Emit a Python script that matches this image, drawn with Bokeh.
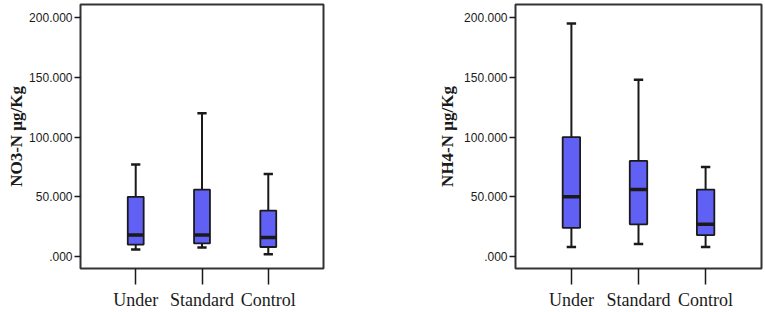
from bokeh.plotting import figure
from bokeh.layouts import row
from bokeh.models import FactorRange, Range1d, FixedTicker, ColumnDataSource
from bokeh.embed import file_html
from bokeh.resources import INLINE

categories = ["Under", "Standard", "Control"]

no3_lower = [6, 7.5, 2]
no3_q1 = [10, 11, 8]
no3_median = [18, 18, 16]
no3_q3 = [50, 56, 38.5]
no3_upper = [77, 120, 69]

nh4_lower = [8, 10.5, 8]
nh4_q1 = [24, 27, 18]
nh4_median = [50, 56, 27]
nh4_q3 = [100, 80, 56]
nh4_upper = [195, 148, 75]

y_ticks = [0, 50, 100, 150, 200]
y_tick_labels = [".000", "50.000", "100.000", "150.000", "200.000"]

BOX_BLUE = "#6060f4"
INK = "#1a1a1a"


def make_panel(label, lower, q1, med, q3, upper, width, mb_left, mb_right, box_w, lab_standoff):
    src = ColumnDataSource(dict(cat=categories, lower=lower, q1=q1, med=med, q3=q3, upper=upper))
    p = figure(width=width, height=312, output_backend="svg", toolbar_location=None,
               x_range=FactorRange(*categories, range_padding=0.333, range_padding_units="absolute"),
               y_range=Range1d(-10, 210.9),
               min_border_left=mb_left, min_border_right=mb_right,
               min_border_top=4, min_border_bottom=44)
    p.background_fill_color = "white"
    p.border_fill_color = "white"
    p.grid.visible = False
    p.outline_line_color = "#333333"
    p.outline_line_width = 2

    # whiskers
    p.segment(x0="cat", y0="q3", x1="cat", y1="upper", source=src, line_color=INK, line_width=2)
    p.segment(x0="cat", y0="q1", x1="cat", y1="lower", source=src, line_color=INK, line_width=2)
    p.rect(x="cat", y="upper", width=0.14, height=2.5, height_units="screen", source=src,
           fill_color=INK, line_color=None)
    p.rect(x="cat", y="lower", width=0.14, height=2.5, height_units="screen", source=src,
           fill_color=INK, line_color=None)
    # boxes
    p.vbar(x="cat", top="q3", bottom="q1", width=box_w, source=src,
           fill_color=BOX_BLUE, line_color=INK, line_width=1.8)
    # medians
    p.rect(x="cat", y="med", width=box_w, height=3.5, height_units="screen", source=src,
           fill_color=INK, line_color=None)

    # y axis
    ya = p.yaxis[0]
    ya.ticker = FixedTicker(ticks=y_ticks)
    ya.major_label_overrides = {t: l for t, l in zip(y_ticks, y_tick_labels)}
    ya.axis_line_color = None
    ya.major_tick_in = 0
    ya.major_tick_out = 6
    ya.major_tick_line_color = INK
    ya.major_tick_line_width = 1.5
    ya.minor_tick_line_color = None
    ya.major_label_standoff = 2
    ya.major_label_text_font = "Liberation Sans"
    ya.major_label_text_font_size = "12px"
    ya.major_label_text_color = INK
    ya.axis_label = label
    ya.axis_label_text_font = "Liberation Serif"
    ya.axis_label_text_font_style = "bold"
    ya.axis_label_text_font_size = "17px"
    ya.axis_label_text_color = INK
    ya.axis_label_standoff = lab_standoff

    # x axis
    xa = p.xaxis[0]
    xa.axis_line_color = None
    xa.major_tick_in = 0
    xa.major_tick_out = 16
    xa.major_tick_line_color = INK
    xa.major_tick_line_width = 1.5
    xa.major_label_standoff = 5
    xa.major_label_text_font = "Liberation Serif"
    xa.major_label_text_font_size = "18px"
    xa.major_label_text_color = INK
    return p


p1 = make_panel("NO3-N \u03bcg/Kg", no3_lower, no3_q1, no3_median, no3_q3, no3_upper,
                345, 80, 22, 0.24, 0)
p2 = make_panel("NH4-N \u03bcg/Kg", nh4_lower, nh4_q1, nh4_median, nh4_q3, nh4_upper,
                420, 170, 4, 0.26, 4)

layout = row(p1, p2)
open("out.html", "w").write(file_html(layout, INLINE))
